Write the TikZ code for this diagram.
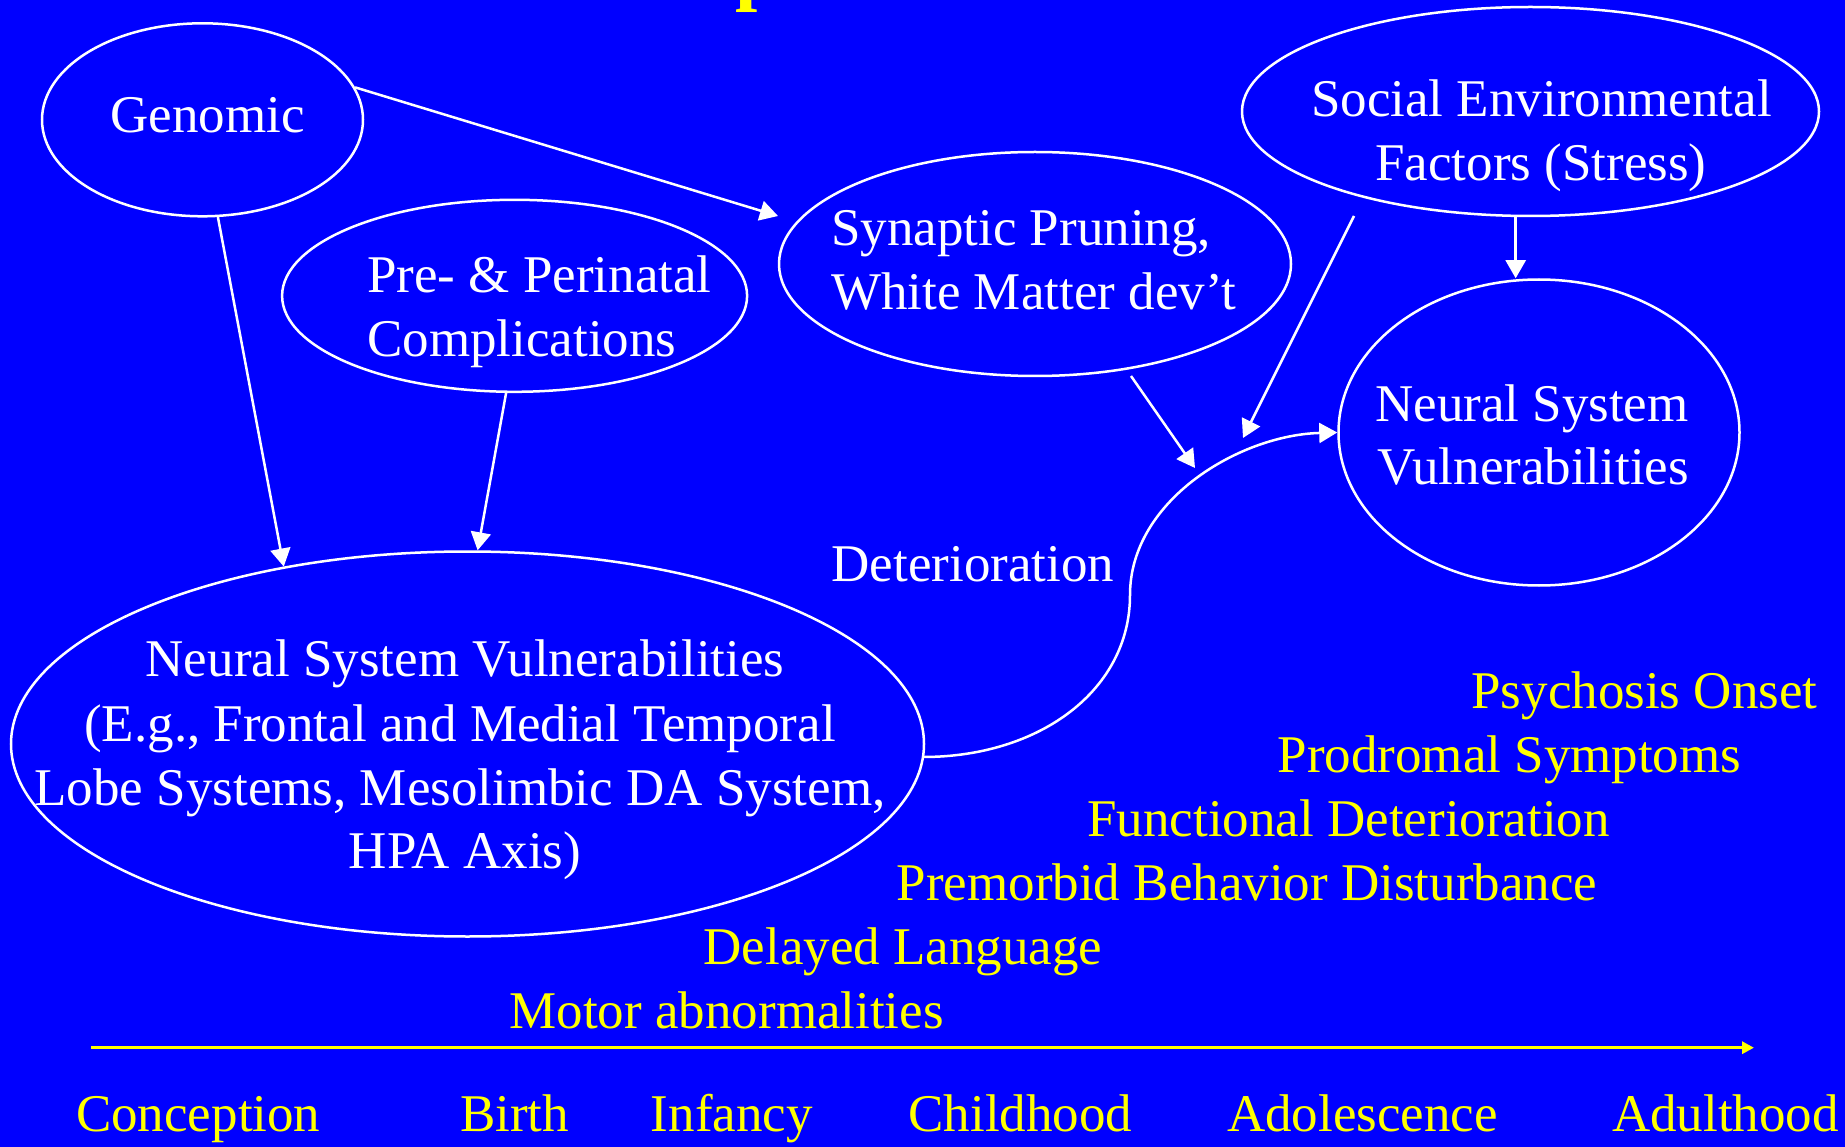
\documentclass[tikz,border=0pt]{standalone}
\usepackage{fontspec}
\setmainfont{Liberation Serif}
\usetikzlibrary{arrows.meta,shapes.geometric}
\definecolor{bg}{RGB}{0,0,255}
\definecolor{yel}{RGB}{255,255,0}
\begin{document}
\begin{tikzpicture}[x=1pt,y=-1pt,
  oval/.style={draw=white,line width=2.5pt,ellipse,inner sep=0pt},
  wtxt/.style={text=white,font=\fontsize{53}{64}\selectfont,inner sep=0pt},
  ytxt/.style={text=yel,font=\fontsize{53}{64}\selectfont,inner sep=0pt},
  link/.style={draw=white,line width=2.5pt,-{Triangle[length=18pt,width=20pt]}},
  timeline/.style={draw=yel,line width=3pt,-{Triangle[length=12pt,width=12pt]}}
]
\fill[bg] (0,0) rectangle (1845,1147);
\useasboundingbox (0,0) rectangle (1845,1147);

% title fragment (cut off at the top)
\node[text=yel,font=\fontsize{80}{90}\selectfont\bfseries,inner sep=0pt,anchor=base west] (title) at (735.5,-4.5) {p};

% ellipses
\node[oval,minimum width=321pt,minimum height=193pt] (genomic) at (202.5,119.8) {};
\node[oval,minimum width=465pt,minimum height=192pt] (perinatal) at (514.6,295.8) {};
\node[oval,minimum width=512pt,minimum height=224pt] (synaptic) at (1035,264) {};
\node[oval,minimum width=577pt,minimum height=209pt] (social) at (1530.5,111.5) {};
\node[oval,minimum width=401pt,minimum height=306pt] (nsvR) at (1539,432.5) {};
\node[oval,minimum width=913pt,minimum height=385pt] (nsvL) at (467.5,744) {};

% white texts
\node[wtxt,anchor=base] (tgen) at (207.5,132.7) {Genomic};
\node[wtxt,anchor=base west] (tper1) at (367,292.7) {Pre- \& Perinatal};
\node[wtxt,anchor=base west] (tper2) at (367,356.7) {Complications};
\node[wtxt,anchor=base west] (tsyn1) at (831,246) {Synaptic Pruning,};
\node[wtxt,anchor=base west] (tsyn2) at (831,309.5) {White Matter dev’t};
\node[wtxt,anchor=base] (tsoc1) at (1541.5,116.7) {Social Environmental};
\node[wtxt,anchor=base] (tsoc2) at (1541,180.6) {Factors (Stress)};
\node[wtxt,anchor=base west] (tnr1) at (1375,421) {Neural System};
\node[wtxt,anchor=base west] (tnr2) at (1377,484) {Vulnerabilities};
\node[wtxt,anchor=base] (tnl1) at (465,676.7) {Neural System Vulnerabilities};
\node[wtxt,anchor=base] (tnl2) at (460,741.7) {(E.g., Frontal and Medial Temporal};
\node[wtxt,anchor=base] (tnl3) at (460,805) {Lobe Systems, Mesolimbic DA System,};
\node[wtxt,anchor=base] (tnl4) at (465,868.3) {HPA Axis)};
\node[wtxt,anchor=base west] (tdet) at (831.5,581) {Deterioration};

% yellow stages
\node[ytxt,anchor=base east] (psy) at (1817.6,708.3) {Psychosis Onset};
\node[ytxt,anchor=base east] (pro) at (1741.5,772.3) {Prodromal Symptoms};
\node[ytxt,anchor=base east] (fun) at (1610,836.7) {Functional Deterioration};
\node[ytxt,anchor=base east] (prem) at (1597.5,900) {Premorbid Behavior Disturbance};
\node[ytxt,anchor=base east] (del) at (1102.5,964) {Delayed Language};
\node[ytxt,anchor=base east] (mot) at (944,1028.3) {Motor abnormalities};

% timeline
\coordinate (tl0) at (91,1047.7);
\coordinate (tl1) at (1754,1047.7);
\draw[timeline] (tl0) -- (tl1);
\node[ytxt,anchor=base west] (conc) at (75.9,1131.7) {Conception};
\node[ytxt,anchor=base west] (birth) at (459.8,1131.7) {Birth};
\node[ytxt,anchor=base west] (inf) at (650.7,1131.7) {Infancy};
\node[ytxt,anchor=base west] (child) at (908.4,1131.7) {Childhood};
\node[ytxt,anchor=base west] (adol) at (1227,1131.7) {Adolescence};
\node[ytxt,anchor=base west] (adult) at (1612,1131.7) {Adulthood};

% connectors
\coordinate (synin) at (778,216);
\coordinate (socfree) at (1354,216);
\coordinate (socend) at (1243,438);
\coordinate (synfree) at (1131,376);
\coordinate (synend) at (1195,468);
\coordinate (curvestart) at (923,757);
\coordinate (bend) at (1130,595);

\draw[link] (genomic.-81) -- (nsvL.136);
\draw[link] (perinatal.-95) -- (nsvL.87.5);
\draw[link] (genomic.12) -- (synin);
\draw[link] (social.-98) -- (social.-98 |- nsvR.north);
\draw[link] (socfree) -- (socend);
\draw[link] (synfree) -- (synend);
\draw[link] (curvestart) .. controls (1040,757) and (1130,690) .. (bend)
  .. controls (1130,500) and (1240,435) .. (nsvR.west);
\end{tikzpicture}
\end{document}
